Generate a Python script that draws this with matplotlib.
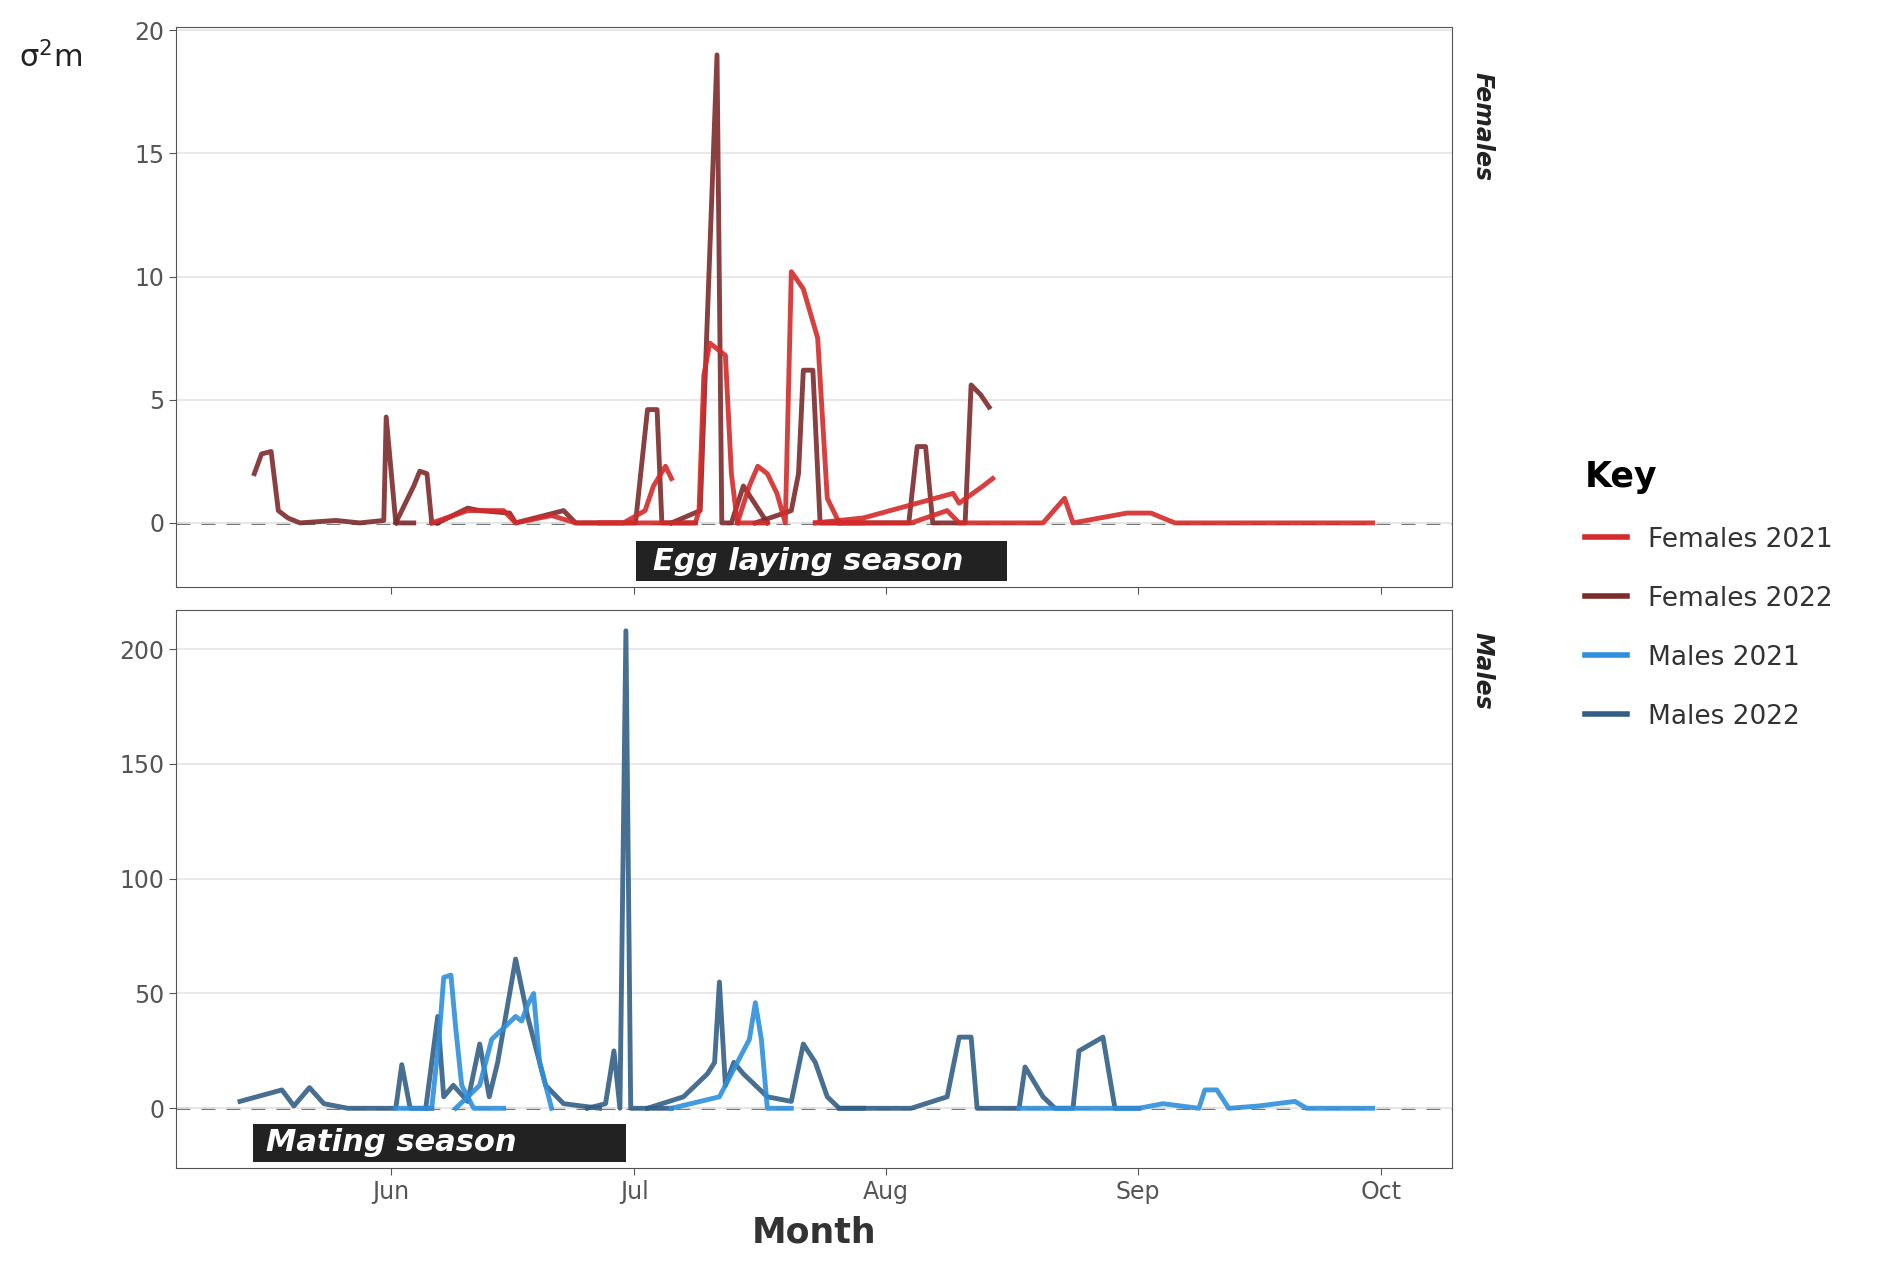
import numpy as np
import matplotlib.pyplot as plt
from matplotlib.lines import Line2D
from matplotlib.patches import Rectangle

# days relative to 1 June
TICK_DAYS = [0, 30, 61, 92, 122]
TICK_LABELS = ['Jun', 'Jul', 'Aug', 'Sep', 'Oct']

COLORS = {'Females 2021': '#d42a2a', 'Females 2022': '#7d2b2b',
          'Males 2021': '#2e8fdc', 'Males 2022': '#325f86'}

def px(xs):
    # screen-read x positions -> days from Jun 1
    return (np.array(xs) - 326) / 6.77

# female tracks (read positions, value)
f21_tracks = [
    ([360, 390, 420, 430, 460, 480, 520, 538, 545, 555, 560], [0, 0.5, 0.5, 0, 0.3, 0, 0, 0.5, 1.5, 2.3, 1.8]),
    ([500, 560, 580, 583, 587, 592, 605, 610, 615, 640], [0, 0, 0, 0.5, 6, 7.3, 6.8, 2, 0, 0]),
    ([615, 625, 632, 640, 648, 655, 660, 670, 682, 690, 700, 720], [0, 1.5, 2.3, 2, 1.2, 0, 10.2, 9.5, 7.5, 1, 0, 0]),
    ([680, 720, 780, 795, 800, 820, 828], [0, 0.2, 1, 1.2, 0.8, 1.5, 1.8]),
    ([680, 760, 790, 800, 870, 888, 895, 940, 960, 980, 1145], [0, 0, 0.5, 0, 0, 1, 0, 0.4, 0.4, 0, 0]),
]
f22_tracks = [
    ([212, 218, 226, 232, 240, 250, 280, 300, 320, 322, 330, 345], [2.0, 2.8, 2.9, 0.5, 0.2, 0, 0.1, 0, 0.1, 4.3, 0, 0]),
    ([330, 345, 350, 356, 360, 365], [0, 1.5, 2.1, 2.0, 0, 0]),
    ([365, 390, 400, 425, 430, 470, 480, 530, 540, 548, 552, 580], [0, 0.6, 0.5, 0.4, 0, 0.5, 0, 0, 4.6, 4.6, 0, 0]),
    ([560, 584, 590, 598, 602, 610, 620, 640], [0, 0.5, 8.4, 19, 0, 0, 1.5, 0]),
    ([630, 660, 666, 670, 678, 684, 700], [0, 0.5, 2, 6.2, 6.2, 0, 0]),
    ([700, 758, 765, 772, 778, 790, 805, 810, 818, 825], [0, 0, 3.1, 3.1, 0, 0, 0, 5.6, 5.2, 4.7]),
]
m21_tracks = [
    ([330, 360, 366, 370, 376, 380, 385, 395, 420], [0, 0, 30, 57, 58, 35, 10, 0, 0]),
    ([380, 400, 410, 420, 430, 435, 440, 445, 450, 460], [0, 10, 30, 35, 40, 38, 45, 50, 20, 0]),
    ([560, 600, 610, 625, 630, 635, 640, 660], [0, 5, 15, 30, 46, 30, 0, 0]),
    ([850, 950, 970, 1000, 1005, 1015, 1025, 1050, 1080, 1090, 1145], [0, 0, 2, 0, 8, 8, 0, 1, 3, 0, 0]),
]
m22_tracks = [
    ([200, 235, 245, 258, 270, 290, 330, 335, 342, 360], [3, 8, 1, 9, 2, 0, 0, 19, 0, 0]),
    ([355, 365, 370, 378, 390, 400, 408, 415, 425, 430, 440, 455, 470, 500], [0, 40, 5, 10, 3, 28, 5, 20, 50, 65, 40, 10, 2, 0]),
    ([490, 505, 512, 517, 522, 526, 532, 560], [0, 2, 25, 0, 208, 0, 0, 0]),
    ([540, 570, 590, 596, 600, 605, 612, 620, 640, 660, 670, 680, 690, 700, 720], [0, 5, 15, 20, 55, 10, 20, 15, 5, 3, 28, 20, 5, 0, 0]),
    ([700, 760, 790, 800, 810, 815, 830, 850, 855, 870, 880, 895, 900, 920, 930, 950], [0, 0, 5, 31, 31, 0, 0, 0, 18, 5, 0, 0, 25, 31, 0, 0]),
]

fig = plt.figure(figsize=(18.81, 12.65), dpi=100)
ax1 = fig.add_axes([0.0938, 0.536, 0.678, 0.443])
ax2 = fig.add_axes([0.0938, 0.0767, 0.678, 0.441])

xlim = (px(147), px(1211))
for ax in (ax1, ax2):
    ax.set_xlim(*xlim)
    ax.axhline(0, color='#666666', ls=(0, (5, 4)), lw=2, zorder=0.5)
    for s in ax.spines.values():
        s.set_color('#555555')
    ax.tick_params(colors='#555555', labelsize=17, length=5)
    ax.set_xticks(TICK_DAYS)

for name, tracks, ax in [('Females 2022', f22_tracks, ax1), ('Females 2021', f21_tracks, ax1),
                         ('Males 2022', m22_tracks, ax2), ('Males 2021', m21_tracks, ax2)]:
    for xs, ys in tracks:
        ax.plot(px(xs), ys, color=COLORS[name], lw=3.5, alpha=0.9, solid_joinstyle='round')

ax1.set_ylim(-2.6, 20.15)
ax1.set_yticks([0, 5, 10, 15, 20])
ax1.set_xticklabels([])
ax2.set_ylim(-26, 217)
ax2.set_yticks([0, 50, 100, 150, 200])
ax2.set_xticklabels(TICK_LABELS)
for ax in (ax1, ax2):
    ax.grid(axis='y', color='#e6e6e6', lw=1.3)
    ax.set_axisbelow(True)

# season boxes
x0, x1 = px(530), px(840)
ax1.add_patch(Rectangle((x0, -2.35), x1 - x0, 1.6, fc='#222222', ec='none', zorder=5))
ax1.text(px(545), -1.55, 'Egg laying season', ha='left', va='center', color='white',
         fontsize=22, fontweight='bold', style='italic', zorder=6)
x0, x1 = px(211), px(522)
ax2.add_patch(Rectangle((x0, -23.5), x1 - x0, 16.5, fc='#222222', ec='none', zorder=5))
ax2.text(px(222), -15, 'Mating season', ha='left', va='center', color='white',
         fontsize=22, fontweight='bold', style='italic', zorder=6)

fig.text(0.788, 0.90, 'Females', rotation=-90, ha='center', va='center',
         fontsize=17, fontweight='bold', style='italic', color='#222222')
fig.text(0.788, 0.47, 'Males', rotation=-90, ha='center', va='center',
         fontsize=17, fontweight='bold', style='italic', color='#222222')
fig.text(0.01, 0.955, r'$\mathregular{\sigma^2m}$', fontsize=22, color='#222222', va='center')
fig.text(0.4327, 0.018, 'Month', fontsize=25, fontweight='bold', color='#333333', ha='center')

handles = [Line2D([], [], color=COLORS[k], lw=4) for k in COLORS]
fig.legend(handles, list(COLORS), title='Key', loc='center left', bbox_to_anchor=(0.83, 0.53),
           frameon=False, fontsize=19, title_fontproperties={'size': 25, 'weight': 'bold'},
           handlelength=1.6, labelspacing=1.25, labelcolor='#333333', alignment='left')

fig.savefig('out.png', dpi=100)
